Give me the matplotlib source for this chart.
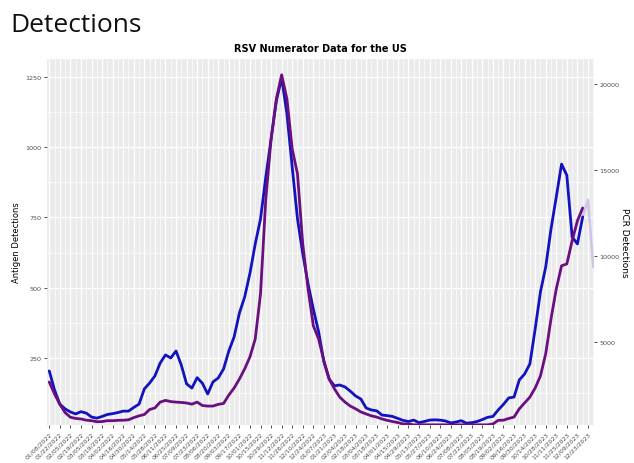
import matplotlib
matplotlib.use('Agg')
import matplotlib.pyplot as plt
import matplotlib.dates as mdates
from matplotlib.ticker import FixedLocator
import pandas as pd

# ---- data ----
start_date = '2022-01-08'
antigen = [204, 136, 86, 69, 58, 51, 59, 54, 40, 36, 42, 49, 52, 56, 61, 61, 74, 86, 140, 161,
           186, 232, 261, 250, 275, 225, 158, 143, 180, 160, 122, 165, 179, 211, 275, 325, 410, 467, 552, 656,
           745, 894, 1029, 1165, 1247, 1119, 930, 745, 621, 514, 424, 343, 236, 175, 151, 154, 147, 132, 115, 104,
           72, 65, 62, 47, 45, 42, 35, 28, 24, 29, 20, 24, 29, 30, 29, 26, 19, 22, 27, 18,
           20, 24, 31, 39, 42, 65, 85, 108, 111, 172, 193, 229, 353, 485, 574, 709, 823, 940, 900, 681,
           656, 752]
pcr = [2690, 1990, 1390, 910, 640, 570, 540, 470, 440, 380, 390, 440, 440, 460, 470, 490, 620, 720, 800, 1090,
       1180, 1520, 1620, 1550, 1520, 1500, 1470, 1400, 1520, 1320, 1290, 1290, 1390, 1440, 1930, 2340, 2860, 3450, 4150, 5190,
       7810, 13330, 16800, 19140, 20540, 19140, 16230, 14780, 10700, 8100, 5960, 5190, 3920, 2860, 2290, 1810, 1520, 1290, 1130, 950,
       830, 720, 650, 540, 460, 390, 330, 250, 250, 200, 200, 200, 200, 200, 200, 200, 200, 200, 200, 200,
       200, 200, 200, 200, 250, 460, 470, 570, 650, 1130, 1470, 1810, 2340, 3040, 4330, 6350, 8100, 9440, 9550, 10890,
       12050, 12800]
tail_start = '2023-12-16'
antigen_tail = [752, 813, 574]

PCR_SCALE = 16.33  # PCR detections per antigen detection (secondary axis)

dates = pd.date_range(start_date, periods=len(antigen), freq='7D')
tail_dates = pd.date_range(tail_start, periods=len(antigen_tail), freq='7D')
pcr_on_antigen_scale = [v / PCR_SCALE for v in pcr]

# ---- figure ----
fig = plt.figure(figsize=(6.34, 4.64), dpi=100)
ax = fig.add_axes([47 / 634, 38 / 464, (594 - 47) / 634, (404 - 38) / 464])
ax.set_facecolor('#ebebeb')
for s in ax.spines.values():
    s.set_visible(False)

ax.plot(tail_dates, antigen_tail, color='#cdc6e4', lw=1.8, solid_capstyle='round', zorder=3)
ax.plot(dates, antigen, color='#1212bf', lw=2.0, solid_joinstyle='round', solid_capstyle='round', zorder=4)
ax.plot(dates, pcr_on_antigen_scale, color='#6a0f80', lw=2.0, solid_joinstyle='round',
        solid_capstyle='round', zorder=5)

ax.set_xlim(pd.Timestamp('2022-01-05'), pd.Timestamp('2023-12-31'))
ax.set_ylim(11.6, 1314)

# x ticks: every 2 weeks, minor weekly
major_dates = pd.date_range(start_date, '2023-12-23', freq='14D')
ax.xaxis.set_major_locator(FixedLocator(mdates.date2num(major_dates)))
minor_dates = pd.date_range('2022-01-15', '2023-12-30', freq='14D')
ax.xaxis.set_minor_locator(FixedLocator(mdates.date2num(minor_dates)))
ax.xaxis.set_major_formatter(mdates.DateFormatter('%m/%d/%Y'))
plt.setp(ax.get_xticklabels(), rotation=45, ha='right', rotation_mode='anchor')

ax.yaxis.set_major_locator(FixedLocator([250, 500, 750, 1000, 1250]))
ax.yaxis.set_minor_locator(FixedLocator([125, 375, 625, 875, 1125]))

ax.grid(which='major', color='white', lw=0.9)
ax.grid(which='minor', color='white', lw=0.45)
ax.set_axisbelow(True)
ax.tick_params(axis='both', which='major', length=2.5, width=0.6, color='#333333',
               labelcolor='#4d4d4d', labelsize=4.6, pad=1.5)
ax.tick_params(axis='x', labelsize=4.4)
ax.tick_params(which='minor', length=0)

ax.set_ylabel('Antigen Detections', fontsize=6, labelpad=3)

sec = ax.secondary_yaxis('right', functions=(lambda v: v * PCR_SCALE, lambda v: v / PCR_SCALE))
sec.set_yticks([5000, 10000, 15000, 20000])
for s in sec.spines.values():
    s.set_visible(False)
sec.tick_params(axis='y', length=2.5, width=0.6, color='#333333', labelcolor='#4d4d4d',
                labelsize=4.6, pad=1.5)
sec.set_ylabel('PCR Detections', fontsize=6.5, rotation=270, labelpad=7)

ax.set_title('RSV Numerator Data for the US', fontsize=7, fontweight='bold', pad=6)

fig.text(10 / 634, 1 - 32 / 464, 'Detections', fontsize=19, family='Open Sans',
         va='baseline', ha='left', color='#111111')

fig.savefig('out.png', dpi=100)
